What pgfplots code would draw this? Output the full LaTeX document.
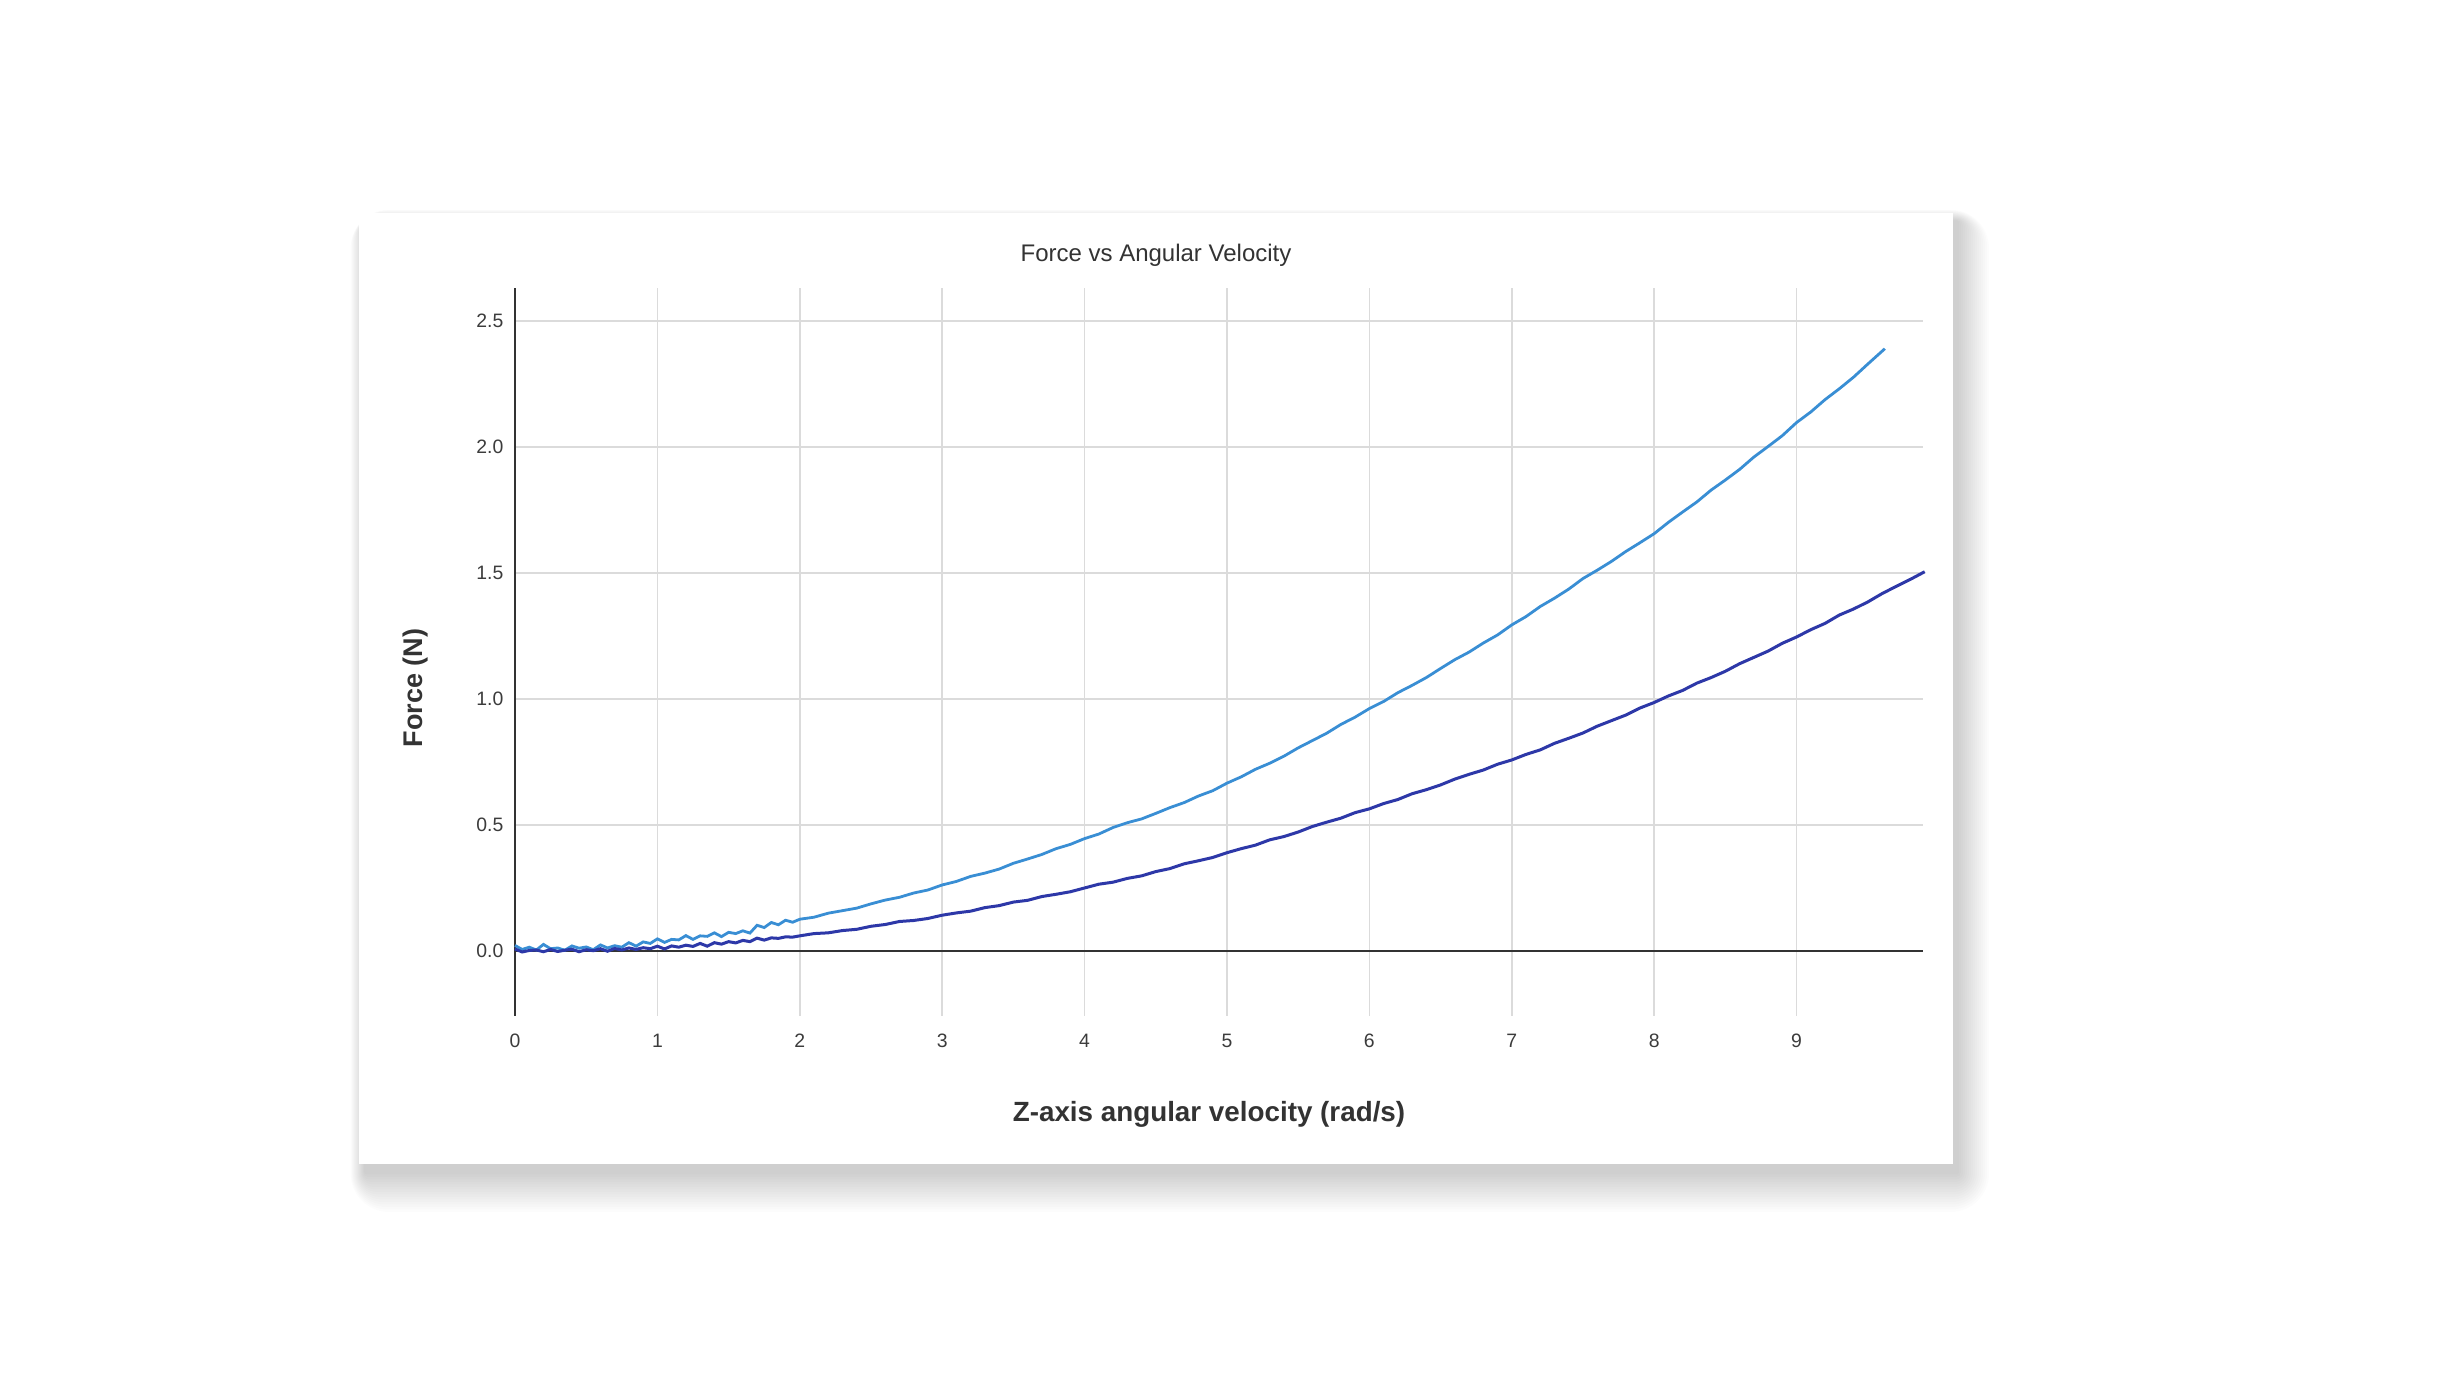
\documentclass[border=0pt]{standalone}
\usepackage{pgfplots}
\pgfplotsset{compat=1.18}
\usepackage{fontspec}
\setmainfont{Liberation Sans}
\definecolor{lightser}{RGB}{57,142,212}
\definecolor{darkser}{RGB}{45,56,168}
\definecolor{axisgray}{RGB}{51,51,51}
\definecolor{txtgray}{RGB}{60,60,60}
\begin{document}
\begin{tikzpicture}
% page = 2443 x 1374 px, 1 px = 0.5pt
\fill[white] (0,0) rectangle (1221.5pt,687pt);
% soft card shadow, mostly below and to the right
\foreach \i in {1,...,16}{
  \fill[black, opacity=0.012, rounded corners=\i*1.2pt]
    (179.5pt-\i*0.45pt+3pt, 105pt-\i*1.25pt-4pt) rectangle (976.5pt+\i*1.0pt+2pt, 580.5pt+\i*0.35pt-4pt);
}
\fill[white] (179.5pt,105pt) rectangle (976.5pt,580.5pt);

\begin{axis}[
  at={(257.5pt,179pt)}, anchor=south west,
  scale only axis, width=704pt, height=364pt,
  xmin=0, xmax=9.888, ymin=-0.258, ymax=2.631,
  axis x line*=bottom, axis y line*=left,
  x axis line style={draw=none},
  y axis line style={draw=axisgray, line width=1.25pt, -},
  major tick length=0pt,
  xtick={0,1,...,9}, ytick={0,0.5,1,1.5,2,2.5},
  grid=major,
  major grid style={line width=0.75pt, draw=black!14},
  tick label style={font=\fontsize{9.7}{11}\selectfont, text=txtgray},
  xticklabel style={yshift=-5.3pt},
  yticklabel style={xshift=-2.3pt},
  /pgf/number format/assume math mode=true,
  yticklabel={\pgfmathprintnumber[fixed, fixed zerofill, precision=1]{\tick}},
  clip=false,
]
\draw[axisgray, line width=1.25pt] (axis cs:0,0) -- (axis cs:9.888,0);

\addplot[lightser, line width=1.4pt, mark=none] coordinates {
(0.00,0.022) (0.05,0.006) (0.10,0.015) (0.15,0.004) (0.20,0.026) (0.25,0.009)
(0.30,0.012) (0.35,0.003) (0.40,0.020) (0.45,0.011) (0.50,0.016) (0.55,0.005)
(0.60,0.024) (0.65,0.012) (0.70,0.021) (0.75,0.015) (0.80,0.033) (0.85,0.019)
(0.90,0.036) (0.95,0.030) (1.00,0.048) (1.05,0.034) (1.10,0.046) (1.15,0.044)
(1.20,0.061) (1.25,0.046) (1.30,0.060) (1.35,0.058) (1.40,0.072) (1.45,0.057)
(1.50,0.074) (1.55,0.069) (1.60,0.080) (1.65,0.071) (1.70,0.102) (1.75,0.093)
(1.80,0.113) (1.85,0.104) (1.90,0.122) (1.95,0.114)
(2.0,0.126) (2.1,0.134) (2.2,0.150) (2.3,0.160) (2.4,0.170) (2.5,0.187)
(2.6,0.202) (2.7,0.213) (2.8,0.230) (2.9,0.242) (3.0,0.262) (3.1,0.276)
(3.2,0.296) (3.3,0.309) (3.4,0.325) (3.5,0.348) (3.6,0.365) (3.7,0.383)
(3.8,0.406) (3.9,0.423) (4.0,0.446) (4.1,0.464) (4.2,0.490) (4.3,0.509)
(4.4,0.524) (4.5,0.546) (4.6,0.569) (4.7,0.589) (4.8,0.615) (4.9,0.636)
(5.0,0.666) (5.1,0.691) (5.2,0.721) (5.3,0.745) (5.4,0.773) (5.5,0.806)
(5.6,0.835) (5.7,0.864) (5.8,0.899) (5.9,0.928) (6.0,0.962) (6.1,0.990)
(6.2,1.025) (6.3,1.054) (6.4,1.085) (6.5,1.121) (6.6,1.156) (6.7,1.186)
(6.8,1.222) (6.9,1.254) (7.0,1.294) (7.1,1.327) (7.2,1.367) (7.3,1.400)
(7.4,1.436) (7.5,1.478) (7.6,1.511) (7.7,1.546) (7.8,1.585) (7.9,1.620)
(8.0,1.656) (8.1,1.701) (8.2,1.742) (8.3,1.782) (8.4,1.829) (8.5,1.869)
(8.6,1.911) (8.7,1.960) (8.8,2.002) (8.9,2.045) (9.0,2.097) (9.1,2.139)
(9.2,2.188) (9.3,2.231) (9.4,2.277) (9.5,2.329) (9.62,2.390)
};

\addplot[darkser, line width=1.5pt, mark=none] coordinates {
(0.00,0.008) (0.05,-0.004) (0.10,0.002) (0.15,0.004) (0.20,-0.003) (0.25,0.006)
(0.30,-0.002) (0.35,0.003) (0.40,0.007) (0.45,-0.003) (0.50,0.005) (0.55,0.001)
(0.60,0.009) (0.65,-0.001) (0.70,0.010) (0.75,0.004) (0.80,0.012) (0.85,0.006)
(0.90,0.013) (0.95,0.009) (1.00,0.019) (1.05,0.008) (1.10,0.020) (1.15,0.015)
(1.20,0.023) (1.25,0.018) (1.30,0.030) (1.35,0.019) (1.40,0.033) (1.45,0.027)
(1.50,0.037) (1.55,0.032) (1.60,0.042) (1.65,0.037) (1.70,0.051) (1.75,0.043)
(1.80,0.052) (1.85,0.050) (1.90,0.056) (1.95,0.055)
(2.0,0.060) (2.1,0.069) (2.2,0.072) (2.3,0.081) (2.4,0.086) (2.5,0.098)
(2.6,0.105) (2.7,0.117) (2.8,0.121) (2.9,0.129) (3.0,0.142) (3.1,0.151)
(3.2,0.158) (3.3,0.172) (3.4,0.180) (3.5,0.194) (3.6,0.201) (3.7,0.216)
(3.8,0.225) (3.9,0.235) (4.0,0.250) (4.1,0.265) (4.2,0.273) (4.3,0.288)
(4.4,0.298) (4.5,0.315) (4.6,0.327) (4.7,0.346) (4.8,0.358) (4.9,0.371)
(5.0,0.390) (5.1,0.406) (5.2,0.420) (5.3,0.441) (5.4,0.454) (5.5,0.472)
(5.6,0.494) (5.7,0.511) (5.8,0.527) (5.9,0.549) (6.0,0.564) (6.1,0.585)
(6.2,0.601) (6.3,0.624) (6.4,0.640) (6.5,0.659) (6.6,0.682) (6.7,0.701)
(6.8,0.718) (6.9,0.741) (7.0,0.758) (7.1,0.780) (7.2,0.798) (7.3,0.824)
(7.4,0.844) (7.5,0.865) (7.6,0.892) (7.7,0.914) (7.8,0.936) (7.9,0.964)
(8.0,0.986) (8.1,1.012) (8.2,1.034) (8.3,1.063) (8.4,1.085) (8.5,1.110)
(8.6,1.140) (8.7,1.165) (8.8,1.190) (8.9,1.221) (9.0,1.246) (9.1,1.275)
(9.2,1.300) (9.3,1.333) (9.4,1.357) (9.5,1.385) (9.6,1.418) (9.7,1.447)
(9.8,1.475) (9.9,1.505)
};
\end{axis}

\node[anchor=base, text=axisgray, font=\fontsize{12}{14}\selectfont] at (578pt,556pt) {Force vs Angular Velocity};
\node[anchor=base, text=axisgray, font=\bfseries\fontsize{13.9}{16}\selectfont] at (604.5pt,126pt) {Z-axis angular velocity (rad/s)};
\node[rotate=90, text=axisgray, font=\bfseries\fontsize{13.5}{15}\selectfont] at (208pt,343pt) {Force (N)};
\end{tikzpicture}
\end{document}
